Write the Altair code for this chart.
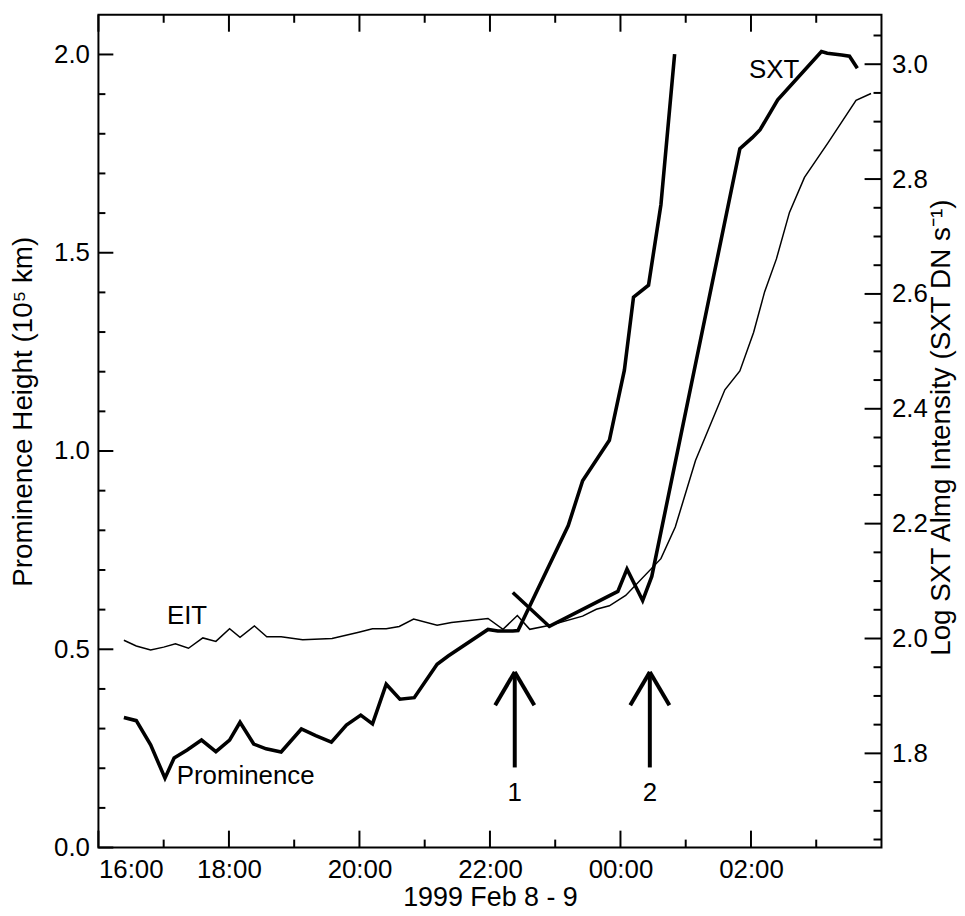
import altair as alt
import pandas as pd

W, H = 788, 838
FONT = "Liberation Sans"
FS = 26
TFS = 28

# ---------------- data ----------------
# time in hours since 1999 Feb 8 00:00 (24 = Feb 9 00:00)
prom_t = [16.39, 16.58, 16.80, 17.02, 17.16, 17.36, 17.58, 17.80, 18.01, 18.17,
          18.38, 18.57, 18.80, 19.11, 19.33, 19.57, 19.80, 20.02, 20.20, 20.41,
          20.62, 20.84, 21.19, 21.36, 21.97, 22.12, 22.35, 22.43, 23.20, 23.42,
          23.83, 24.06, 24.20, 24.43, 24.62, 24.83]
prom_h = [0.328, 0.320, 0.259, 0.175, 0.226, 0.246, 0.271, 0.242, 0.271, 0.316,
          0.261, 0.249, 0.241, 0.299, 0.282, 0.266, 0.309, 0.334, 0.312, 0.412,
          0.374, 0.378, 0.462, 0.483, 0.550, 0.546, 0.546, 0.547, 0.812, 0.925,
          1.027, 1.204, 1.388, 1.418, 1.621, 2.001]

sxt_t = [22.35, 22.91, 23.96, 24.10, 24.34, 24.48, 25.83, 26.02, 26.14, 26.41,
         27.08, 27.17, 27.39, 27.51, 27.63]
sxt_v = [2.080, 2.021, 2.082, 2.121, 2.066, 2.108, 2.853, 2.872, 2.886, 2.938,
         3.022, 3.019, 3.016, 3.014, 2.993]

eit_t = [16.39, 16.58, 16.80, 17.00, 17.18, 17.38, 17.60, 17.80, 18.01, 18.17,
         18.39, 18.58, 18.80, 19.13, 19.58, 19.99, 20.20, 20.41, 20.61, 20.83,
         21.19, 21.41, 21.97, 22.20, 22.42, 22.61, 22.92, 23.42, 23.63, 23.83,
         24.08, 24.62, 24.84, 25.15, 25.60, 25.83, 26.04, 26.21, 26.39, 26.59,
         26.82, 27.18, 27.61, 27.84]
eit_v = [1.997, 1.987, 1.980, 1.985, 1.991, 1.983, 2.001, 1.995, 2.017, 2.002,
         2.022, 2.003, 2.003, 1.998, 2.000, 2.011, 2.017, 2.017, 2.021, 2.034,
         2.023, 2.028, 2.035, 2.016, 2.040, 2.016, 2.023, 2.039, 2.051, 2.057,
         2.075, 2.139, 2.194, 2.310, 2.433, 2.466, 2.533, 2.604, 2.661, 2.742,
         2.803, 2.863, 2.937, 2.949]

# axis ticks
x_major = [16, 18, 20, 22, 24, 26]
x_minor = [17, 19, 21, 23, 25, 27]
left_major = [0.0, 0.5, 1.0, 1.5, 2.0]
left_minor = [0.1, 0.2, 0.3, 0.4, 0.6, 0.7, 0.8, 0.9, 1.1, 1.2, 1.3, 1.4,
              1.6, 1.7, 1.8, 1.9]
right_major = [1.8, 2.0, 2.2, 2.4, 2.6, 2.8, 3.0]
right_minor = [1.65, 1.70, 1.75, 1.85, 1.90, 1.95, 2.05, 2.10, 2.15, 2.25, 2.30,
               2.35, 2.45, 2.50, 2.55, 2.65, 2.70, 2.75, 2.85, 2.90, 2.95, 3.05]

# arrows (time, label) and their extent in prominence-height units
arrow_t = [22.38, 24.45]
arrow_lab = ["1", "2"]
arrow_base, arrow_tip, arrow_wing, wing_dx = 0.202, 0.443, 0.359, 0.30
arrow_lab_y = 0.118

# text labels
lab_left_txt = ["EIT", "Prominence"]
lab_left_t = [17.05, 17.20]
lab_left_y = [0.564, 0.160]
lab_right_txt = ["SXT"]
lab_right_t = [25.97]
lab_right_y = [2.976]

X_DOMAIN = [16, 28]
LEFT_DOMAIN = [0, 2.1]
RIGHT_DOMAIN = [1.636, 3.086]

# ---------------- scales / axes ----------------
xs = alt.Scale(domain=X_DOMAIN, nice=False, zero=False)
ls = alt.Scale(domain=LEFT_DOMAIN, nice=False, zero=False)
rs = alt.Scale(domain=RIGHT_DOMAIN, nice=False, zero=False)

x_axis = alt.Axis(values=x_major, labelExpr="format(datum.value % 24, '02d') + ':00'",
                  title="1999 Feb 8 - 9", ticks=False, domain=False, grid=False,
                  labelPadding=9, labelFontSize=FS, titleFontSize=27,
                  titleFontWeight="normal", titleBaseline="alphabetic",
                  titleX=W / 2, titleY=58, titleAlign="center")
l_axis = alt.Axis(values=left_major, format=".1f", orient="left",
                  title="Prominence Height (10⁵ km)", ticks=False, domain=False,
                  grid=False, labelPadding=9, labelFontSize=FS, titleFontSize=TFS,
                  titleFontWeight="normal", titleAngle=270, titleBaseline="alphabetic",
                  titleX=-67, titleY=H / 2 - 20, titleAlign="center")
r_axis = alt.Axis(values=right_major, format=".1f", orient="right",
                  title="Log SXT Almg Intensity (SXT DN s⁻¹)", ticks=False,
                  domain=False, grid=False, labelPadding=10, labelFontSize=FS,
                  titleFontSize=TFS, titleFontWeight="normal", titleAngle=270,
                  titleBaseline="alphabetic", titleX=68, titleY=H / 2 - 4,
                  titleAlign="center")

X = lambda f: alt.X(f, type="quantitative", scale=xs, axis=x_axis)
YL = lambda f: alt.Y(f, type="quantitative", scale=ls, axis=l_axis)
YR = lambda f: alt.Y(f, type="quantitative", scale=rs, axis=r_axis)

prom_df = pd.DataFrame({"t": prom_t, "y": prom_h})
sxt_df = pd.DataFrame({"t": sxt_t, "y": sxt_v})
eit_df = pd.DataFrame({"t": eit_t, "y": eit_v})

prom_line = alt.Chart(prom_df).mark_line(color="black", strokeWidth=3.6).encode(x=X("t"), y=YL("y"))
sxt_line = alt.Chart(sxt_df).mark_line(color="black", strokeWidth=3.6).encode(x=X("t"), y=YR("y"))
eit_line = alt.Chart(eit_df).mark_line(color="black", strokeWidth=1.5).encode(x=X("t"), y=YR("y"))

def xticks(vals, y0, y1):
    return alt.Chart(pd.DataFrame({"t": vals})).mark_rule(color="black", strokeWidth=2).encode(
        x=X("t"), y=alt.value(y0), y2=alt.value(y1))

def yticks(vals, enc, x0, x1):
    return alt.Chart(pd.DataFrame({"y": vals})).mark_rule(color="black", strokeWidth=2).encode(
        y=enc("y"), x=alt.value(x0), x2=alt.value(x1))

MAJ, MIN = 17, 8
tick_layers_left = [
    xticks(x_major, H, H - MAJ), xticks(x_minor, H, H - MIN),
    xticks(x_major, 0, MAJ), xticks(x_minor, 0, MIN),
    yticks(left_major, YL, 0, 15), yticks(left_minor, YL, 0, 7),
]
tick_layers_right = [
    yticks(right_major, YR, W, W - MAJ), yticks(right_minor, YR, W, W - MIN),
]

# arrows
seg = []
for t in arrow_t:
    seg.append({"t": t, "t2": t, "y": arrow_base, "y2": arrow_tip})
    seg.append({"t": t - wing_dx, "t2": t, "y": arrow_wing, "y2": arrow_tip})
    seg.append({"t": t + wing_dx, "t2": t, "y": arrow_wing, "y2": arrow_tip})
arrows = alt.Chart(pd.DataFrame(seg)).mark_rule(color="black", strokeWidth=4).encode(
    x=X("t"), x2="t2", y=YL("y"), y2="y2")
arrow_text = alt.Chart(pd.DataFrame({"t": arrow_t, "y": [arrow_lab_y] * 2, "s": arrow_lab})).mark_text(
    fontSize=FS, baseline="alphabetic", align="center", color="black").encode(
    x=X("t"), y=YL("y"), text="s")

left_text = alt.Chart(pd.DataFrame({"t": lab_left_t, "y": lab_left_y, "s": lab_left_txt})).mark_text(
    fontSize=FS, baseline="alphabetic", align="left", color="black").encode(
    x=X("t"), y=YL("y"), text="s")
right_text = alt.Chart(pd.DataFrame({"t": lab_right_t, "y": lab_right_y, "s": lab_right_txt})).mark_text(
    fontSize=FS, baseline="alphabetic", align="left", color="black").encode(
    x=X("t"), y=YR("y"), text="s")

left = alt.layer(prom_line, arrows, arrow_text, left_text, *tick_layers_left)
right = alt.layer(eit_line, sxt_line, right_text, *tick_layers_right)

chart = alt.layer(left, right).resolve_scale(y="independent").properties(
    width=W, height=H,
    autosize=alt.AutoSizeParams(type="none"),
    padding={"left": 91, "top": 4, "right": 76, "bottom": 62},
).configure(font=FONT).configure_view(stroke="black", strokeWidth=2).configure_axis(
    labelColor="black", titleColor="black", labelFont=FONT, titleFont=FONT)

chart.save("out.html", embed_options={"renderer": "svg", "actions": False})
